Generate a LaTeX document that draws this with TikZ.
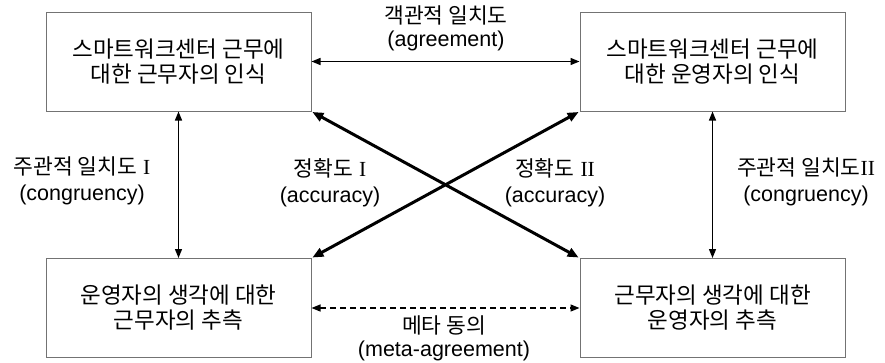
\documentclass[tikz,border=0pt]{standalone}
\usepackage{fontspec}
\setmainfont{Liberation Sans}
\newfontfamily\kr{Noto Sans CJK KR}
\newfontfamily\rn{Liberation Serif}
\usetikzlibrary{arrows.meta, positioning}

\tikzset{
  box/.style={draw=black!55, line width=1pt, minimum width=265pt, minimum height=99pt,
    align=center, font=\kr\fontsize{22.5}{25}\selectfont, inner sep=0pt},
  lbl/.style={align=center, font=\fontsize{21.5}{26}\selectfont, inner sep=0pt},
  link/.style={line width=1.3pt, {Triangle[length=9pt,width=7pt]}-{Triangle[length=9pt,width=7pt]}},
  cross/.style={line width=3pt, {Triangle[length=11pt,width=9pt]}-{Triangle[length=11pt,width=9pt]}, shorten <=1pt, shorten >=1pt},
  meta/.style={link, dash pattern=on 6pt off 4pt}
}

\begin{document}
\begin{tikzpicture}[x=1pt,y=-1pt]
\useasboundingbox (0,0) rectangle (885,362);
% four boxes
\node at (178.5,61.5) [box] (tl) {스마트워크센터 근무에\\대한 근무자의 인식};
\node at (712.5,61.5) [box] (tr) {스마트워크센터 근무에\\대한 운영자의 인식};
\node at (178.5,308) [box] (bl) {운영자의 생각에 대한\\근무자의 추측};
\node at (712.5,308) [box] (br) {근무자의 생각에 대한\\운영자의 추측};
% labels
\node at (446,28) [lbl, font=\fontsize{21.5}{23}\selectfont] (agree) {{\kr 객관적 일치도}\\(agreement)};
\node at (82,181) [lbl] (cong1) {{\kr 주관적 일치도} {\rn I}\\(congruency)};
\node at (330,183) [lbl] (acc1) {{\kr 정확도} {\rn I}\\(accuracy)};
\node at (555,183) [lbl] (acc2) {{\kr 정확도} {\rn II}\\(accuracy)};
\node at (806,182) [lbl] (cong2) {{\kr 주관적 일치도}{\rn II}\\(congruency)};
\node at (444,338) [lbl, font=\fontsize{21.5}{23}\selectfont] (metaagree) {{\kr 메타 동의}\\(meta-agreement)};
% connectors
\draw [link] (tl.east) -- (tr.west);
\draw [meta] (bl.east) -- (br.west);
\draw [link] (tl.south) -- (bl.north);
\draw [link] (tr.south) -- (br.north);
\draw [cross] (tl.south east) -- (br.north west);
\draw [cross] (bl.north east) -- (tr.south west);
\end{tikzpicture}
\end{document}
